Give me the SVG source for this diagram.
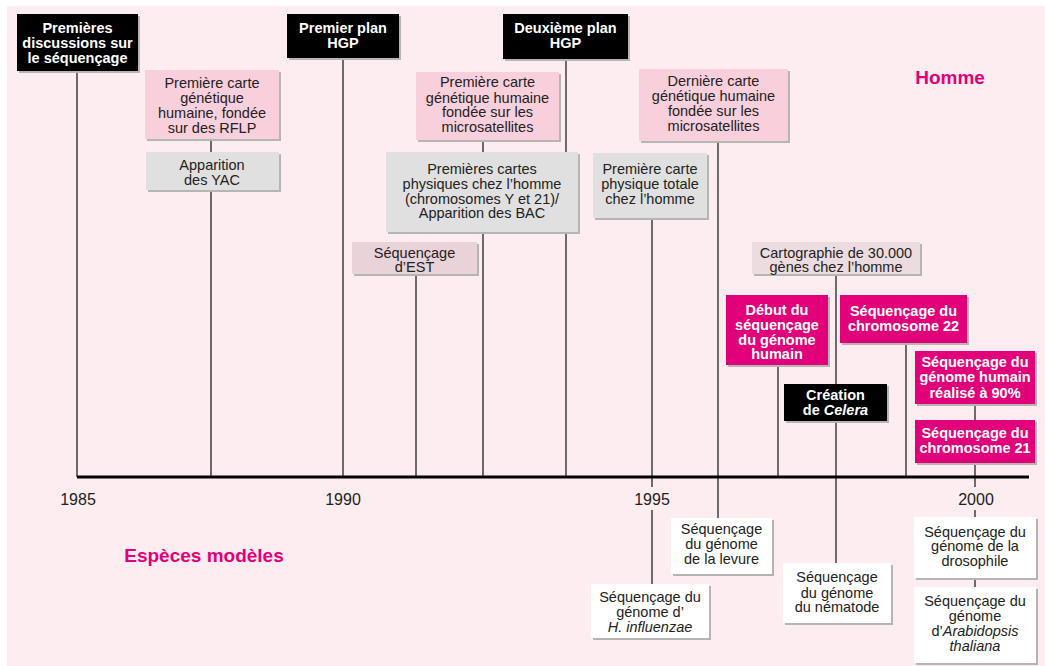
<svg xmlns="http://www.w3.org/2000/svg" width="1045" height="666" viewBox="0 0 1045 666">
<style>
text{font-family:"Liberation Sans",Arial,sans-serif;font-size:14.5px;text-anchor:middle;fill:#222}
.w{fill:#fff;font-weight:bold}
.sh{fill:#b5b5b5}
.blk{fill:#000}
.pk{fill:#f9cfdc}
.gr{fill:#e0e0e0}
.est{fill:#e9d2d8}
.car{fill:#ecdcdf}
.mg{fill:#e2007a}
.wh{fill:#fff}
.ln{stroke:#4a4a4a;stroke-width:1.6;fill:none}
.it{font-style:italic}
.yr{font-size:16px;fill:#222}
.ttl{font-size:19px;font-weight:bold;fill:#e2007a}
</style>
<rect x="7" y="6" width="1038" height="660" fill="#fdedf0"/>
<g id="connectors">
<path class="ln" d="M77 71V477M211 139V152M211 190V477M343 58V477M416 274V477M483 140V152M483 232V477M566 59V477M652 218V487M652 510V584M718 141V518M778 365V477M836 274V384M836 421V563M906 343V477M975 404V420M975 463V487M975 510V517M975 578V587"/>
<line x1="77" y1="477" x2="1029" y2="477" stroke="#000" stroke-width="3"/>
</g>
<g id="labels">
<text class="yr" x="78" y="505">1985</text>
<text class="yr" x="343" y="505">1990</text>
<text class="yr" x="652" y="505">1995</text>
<text class="yr" x="976" y="505">2000</text>
<text class="ttl" x="950" y="84">Homme</text>
<text class="ttl" x="204" y="562">Espèces modèles</text>
</g>
<g id="n1"><rect class="sh" x="19" y="16" width="121" height="57"/><rect class="blk" x="17" y="14" width="121" height="57"/>
<text class="w" x="77.5" y="33">Premières</text><text class="w" x="77.5" y="48">discussions sur</text><text class="w" x="77.5" y="63">le séquençage</text></g>
<g id="n2"><rect class="sh" x="147" y="72" width="134" height="69"/><rect class="pk" x="145" y="70" width="134" height="69"/>
<text x="212" y="88">Première carte</text><text x="212" y="103">génétique</text><text x="212" y="118">humaine, fondée</text><text x="212" y="133">sur des RFLP</text></g>
<g id="n3"><rect class="sh" x="148" y="154" width="133" height="38"/><rect class="gr" x="146" y="152" width="133" height="38"/>
<text x="212" y="170">Apparition</text><text x="212" y="185">des YAC</text></g>
<g id="n4"><rect class="sh" x="289" y="16" width="112" height="44"/><rect class="blk" x="287" y="14" width="112" height="44"/>
<text class="w" x="343" y="33">Premier plan</text><text class="w" x="343" y="48">HGP</text></g>
<g id="n5"><rect class="sh" x="505" y="16" width="125" height="45"/><rect class="blk" x="503" y="14" width="125" height="45"/>
<text class="w" x="565.5" y="33">Deuxième plan</text><text class="w" x="565.5" y="48">HGP</text></g>
<g id="n6"><rect class="sh" x="418" y="74" width="143" height="68"/><rect class="pk" x="416" y="72" width="143" height="68"/>
<text x="487.5" y="87">Première carte</text><text x="487.5" y="103">génétique humaine</text><text x="487.5" y="117">fondée sur les</text><text x="487.5" y="132">microsatellites</text></g>
<g id="n7"><rect class="sh" x="388" y="154" width="192" height="80"/><rect class="gr" x="386" y="152" width="192" height="80"/>
<text x="482" y="174">Premières cartes</text><text x="482" y="189">physiques chez l’homme</text><text x="482" y="204">(chromosomes Y et 21)/</text><text x="482" y="218">Apparition des BAC</text></g>
<g id="n8"><rect class="sh" x="354" y="244" width="125" height="32"/><rect class="est" x="352" y="242" width="125" height="32"/>
<text x="414.5" y="258">Séquençage</text><text x="414.5" y="272">d’EST</text></g>
<g id="n9"><rect class="sh" x="641" y="71" width="149" height="72"/><rect class="pk" x="639" y="69" width="149" height="72"/>
<text x="713.5" y="86">Dernière carte</text><text x="713.5" y="101">génétique humaine</text><text x="713.5" y="116">fondée sur les</text><text x="713.5" y="131">microsatellites</text></g>
<g id="n10"><rect class="sh" x="595" y="155" width="114" height="65"/><rect class="gr" x="593" y="153" width="114" height="65"/>
<text x="650" y="174">Première carte</text><text x="650" y="189">physique totale</text><text x="650" y="204">chez l’homme</text></g>
<g id="n11"><rect class="sh" x="754" y="244" width="168" height="32"/><rect class="car" x="752" y="242" width="168" height="32"/>
<text x="836" y="258">Cartographie de 30.000</text><text x="836" y="272">gènes chez l’homme</text></g>
<g id="n12"><rect class="sh" x="728" y="297" width="102" height="70"/><rect class="mg" x="726" y="295" width="102" height="70"/>
<text class="w" x="777" y="315">Début du</text><text class="w" x="777" y="330">séquençage</text><text class="w" x="777" y="345">du génome</text><text class="w" x="777" y="359">humain</text></g>
<g id="n13"><rect class="sh" x="842" y="297" width="127" height="48"/><rect class="mg" x="840" y="295" width="127" height="48"/>
<text class="w" x="903.5" y="316">Séquençage du</text><text class="w" x="903.5" y="331">chromosome 22</text></g>
<g id="n14"><rect class="sh" x="786" y="386" width="103" height="37"/><rect class="blk" x="784" y="384" width="103" height="37"/>
<text class="w" x="835.5" y="400">Création</text><text class="w" x="835.5" y="415">de <tspan class="it">Celera</tspan></text></g>
<g id="n15"><rect class="sh" x="917" y="353" width="120" height="53"/><rect class="mg" x="915" y="351" width="120" height="53"/>
<text class="w" x="975" y="367">Séquençage du</text><text class="w" x="975" y="382">génome humain</text><text class="w" x="975" y="398">réalisé à 90%</text></g>
<g id="n16"><rect class="sh" x="917" y="422" width="120" height="43"/><rect class="mg" x="915" y="420" width="120" height="43"/>
<text class="w" x="975" y="438">Séquençage du</text><text class="w" x="975" y="453">chromosome 21</text></g>
<g id="n17"><rect class="sh" x="593" y="586" width="118" height="54"/><rect class="wh" x="591" y="584" width="118" height="54"/>
<text x="650" y="602">Séquençage du</text><text x="650" y="617">génome d’</text><text x="650" y="632" class="it">H. influenzae</text></g>
<g id="n18"><rect class="sh" x="673" y="520" width="101" height="56"/><rect class="wh" x="671" y="518" width="101" height="56"/>
<text x="721.5" y="534">Séquençage</text><text x="721.5" y="549">du génome</text><text x="721.5" y="564">de la levure</text></g>
<g id="n19"><rect class="sh" x="785" y="565" width="108" height="60"/><rect class="wh" x="783" y="563" width="108" height="60"/>
<text x="837" y="582">Séquençage</text><text x="837" y="598">du génome</text><text x="837" y="612">du nématode</text></g>
<g id="n20"><rect class="sh" x="916" y="519" width="122" height="61"/><rect class="wh" x="914" y="517" width="122" height="61"/>
<text x="975" y="537">Séquençage du</text><text x="975" y="551">génome de la</text><text x="975" y="566">drosophile</text></g>
<g id="n21"><rect class="sh" x="916" y="589" width="122" height="76"/><rect class="wh" x="914" y="587" width="122" height="76"/>
<text x="975" y="606">Séquençage du</text><text x="975" y="621">génome</text><text x="975" y="636">d’<tspan class="it">Arabidopsis</tspan></text><text x="975" y="651" class="it">thaliana</text></g>
</svg>
